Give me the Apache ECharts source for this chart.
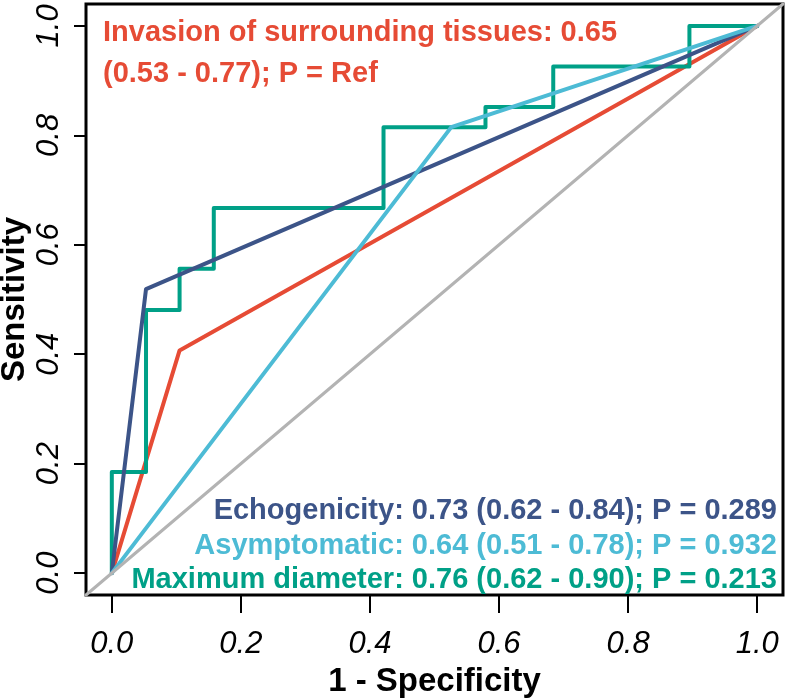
<!DOCTYPE html>
<html>
<head>
<meta charset="utf-8">
<script src="https://cdn.jsdelivr.net/npm/echarts@6/dist/echarts.min.js"></script>
<style>
html,body{margin:0;padding:0;background:#fff;}
#chart{width:788px;height:699px;}
</style>
</head>
<body>
<div id="chart"></div>
<script>
// ---- data ----
const tickValues = [0, 0.2, 0.4, 0.6, 0.8, 1.0];
const tickLabels = ["0.0", "0.2", "0.4", "0.6", "0.8", "1.0"];

const invasionFpr = [0, 0.105, 1];
const invasionTpr = [0, 0.407, 1];

const maxDiamFpr = [0, 0, 0.053, 0.053, 0.105, 0.105, 0.158, 0.158, 0.421, 0.421, 0.579, 0.579, 0.684, 0.684, 0.895, 0.895, 1];
const maxDiamTpr = [0, 0.185, 0.185, 0.481, 0.481, 0.556, 0.556, 0.667, 0.667, 0.815, 0.815, 0.852, 0.852, 0.926, 0.926, 1, 1];

const echoFpr = [0, 0.053, 1];
const echoTpr = [0, 0.519, 1];

const asymFpr = [0, 0.526, 1];
const asymTpr = [0, 0.815, 1];

const diagX = [-0.04, 1.04];
const diagY = [-0.04, 1.04];

const labelInvasion1 = "Invasion of surrounding tissues: 0.65";
const labelInvasion2 = "(0.53 - 0.77); P = Ref";
const labelEcho = "Echogenicity: 0.73 (0.62 - 0.84); P = 0.289";
const labelAsym = "Asymptomatic: 0.64 (0.51 - 0.78); P = 0.932";
const labelMaxDiam = "Maximum diameter: 0.76 (0.62 - 0.90); P = 0.213";

// ---- styles ----
const C_RED = '#E64B35', C_DARK = '#3C5488', C_LIGHT = '#4DBBD5', C_GREEN = '#00A087', C_GREY = '#B3B3B3';
const FONT = '"Liberation Sans", Arial, Helvetica, sans-serif';

function pairs(xs, ys) { return xs.map((x, i) => [x, ys[i]]); }
function lineSeries(name, xs, ys, color, width) {
  return {
    name: name, type: 'line', data: pairs(xs, ys), symbol: 'none', silent: true,
    lineStyle: { color: color, width: width, cap: 'round', join: 'round' },
    animation: false
  };
}
function fmt(v) { return tickLabels[tickValues.findIndex(t => Math.abs(t - v) < 1e-9)]; }

const chart = echarts.init(document.getElementById('chart'), null, { renderer: 'canvas' });
const tickLabelStyle = { fontFamily: FONT, fontStyle: 'italic', fontSize: 31, color: '#000' };

chart.setOption({
  animation: false,
  grid: { left: 86, top: 4, width: 697, height: 591, show: true, borderColor: '#000', borderWidth: 3,
          backgroundColor: 'transparent', containLabel: false, outerBoundsMode: 'none' },
  xAxis: {
    type: 'value', min: -0.04, max: 1.04,
    name: '1 - Specificity', nameLocation: 'middle', nameGap: 70, nameMoveOverlap: false,
    nameTextStyle: { fontFamily: FONT, fontWeight: 'bold', fontSize: 33, color: '#000' },
    axisLine: { show: false, onZero: false },
    splitLine: { show: false },
    axisTick: { show: true, inside: false, length: 18, lineStyle: { color: '#000', width: 2 }, customValues: tickValues },
    axisLabel: Object.assign({ margin: 34, customValues: tickValues, formatter: fmt }, tickLabelStyle)
  },
  yAxis: {
    type: 'value', min: -0.04, max: 1.04,
    name: 'Sensitivity', nameLocation: 'middle', nameGap: 55, nameRotate: 90, nameMoveOverlap: false,
    nameTextStyle: { fontFamily: FONT, fontWeight: 'bold', fontSize: 33, color: '#000' },
    axisLine: { show: false, onZero: false },
    splitLine: { show: false },
    axisTick: { show: true, inside: false, length: 12, lineStyle: { color: '#000', width: 2 }, customValues: tickValues },
    axisLabel: Object.assign({ margin: 21, rotate: 90, customValues: tickValues, formatter: fmt }, tickLabelStyle)
  },
  series: [
    lineSeries('Invasion of surrounding tissues', invasionFpr, invasionTpr, C_RED, 4),
    lineSeries('Maximum diameter', maxDiamFpr, maxDiamTpr, C_GREEN, 4),
    lineSeries('Echogenicity', echoFpr, echoTpr, C_DARK, 4),
    lineSeries('Asymptomatic', asymFpr, asymTpr, C_LIGHT, 4),
    lineSeries('Reference', diagX, diagY, C_GREY, 3)
  ],
  graphic: [
    { type: 'text', left: 103, top: 18, silent: true,
      style: { text: labelInvasion1, fill: C_RED, font: 'bold 29px ' + FONT } },
    { type: 'text', left: 103, top: 59, silent: true,
      style: { text: labelInvasion2, fill: C_RED, font: 'bold 29px ' + FONT } },
    { type: 'text', right: 11, top: 496, silent: true,
      style: { text: labelEcho, fill: C_DARK, font: 'bold 29px ' + FONT } },
    { type: 'text', right: 11, top: 531, silent: true,
      style: { text: labelAsym, fill: C_LIGHT, font: 'bold 29px ' + FONT } },
    { type: 'text', right: 11, top: 565, silent: true,
      style: { text: labelMaxDiam, fill: C_GREEN, font: 'bold 29px ' + FONT } }
  ]
});
</script>
</body>
</html>
